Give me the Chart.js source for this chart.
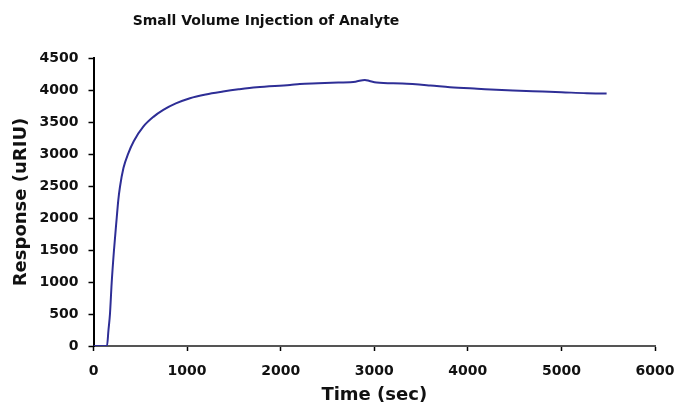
<!DOCTYPE html>
<html><head><meta charset="utf-8">
<script src="https://cdn.jsdelivr.net/npm/chart.js@4"></script>
<style>html,body{margin:0;padding:0;background:#fff}#wrap{width:675px;height:406px}</style>
</head><body><div id="wrap"><canvas id="c" width="675" height="406"></canvas></div>
<script>
const titleText = "Small Volume Injection of Analyte";
const xTitle = "Time (sec)";
const yTitle = "Response (uRIU)";
const timeSec = [0, 100, 144, 160, 176, 194, 219, 248, 265, 283, 320, 372, 430, 532, 640, 746, 880, 1031, 1200, 1384, 1550, 1743, 2100, 2205, 2400, 2615, 2800, 2900, 2950, 3025, 3300, 3600, 3809, 4100, 4482, 4800, 5000, 5270, 5483];
const response = [0, 0, 0, 250, 500, 981, 1500, 2000, 2280, 2488, 2780, 3011, 3200, 3427, 3580, 3689, 3790, 3872, 3930, 3975, 4010, 4044, 4080, 4095, 4105, 4116, 4130, 4158, 4140, 4116, 4100, 4070, 4044, 4020, 3991, 3975, 3965, 3950, 3945];
const xTicks = [0, 1000, 2000, 3000, 4000, 5000, 6000];
const yTicks = [0, 500, 1000, 1500, 2000, 2500, 3000, 3500, 4000, 4500];

const pts = timeSec.map((t, i) => ({x: t, y: response[i]}));
const tickFont = {family: "DejaVu Sans", weight: "bold", size: 14};
const titlePlugin = {
  id: 'leftTitle',
  afterDraw(chart) {
    const ctx = chart.ctx;
    ctx.save();
    ctx.font = "bold 14px 'DejaVu Sans'";
    ctx.fillStyle = '#111';
    ctx.textAlign = 'center';
    ctx.textBaseline = 'middle';
    ctx.fillText(titleText, 266, 21);
    ctx.restore();
  }
};
new Chart(document.getElementById('c'), {
  type: 'scatter',
  data: {datasets: [{data: pts, showLine: true, borderColor: '#2e2e96', borderWidth: 2, pointRadius: 0, cubicInterpolationMode: 'monotone', fill: false}]},
  options: {
    responsive: false, animation: false, devicePixelRatio: 1,
    layout: {padding: {left: 0, right: 20, top: 58, bottom: 0}},
    plugins: {legend: {display: false}, tooltip: {enabled: false}, title: {display: false}},
    scales: {
      x: {
        type: 'linear', min: 0, max: 6000,
        afterBuildTicks: s => { s.ticks = xTicks.map(v => ({value: v})); },
        afterFit: s => { s.height = 60; s.paddingLeft = 0; s.paddingRight = 0; },
        grid: {display: true, drawOnChartArea: false, drawTicks: true, tickLength: 5, tickColor: '#000', tickWidth: 1.5},
        border: {display: true, color: '#555', width: 2},
        ticks: {color: '#111', font: tickFont, padding: 12, maxRotation: 0, callback: v => String(v)},
        title: {display: true, text: xTitle, color: '#111', font: {family: "DejaVu Sans", weight: "bold", size: 18}, padding: {top: 0, bottom: 0}}
      },
      y: {
        type: 'linear', min: 0, max: 4500,
        afterBuildTicks: s => { s.ticks = yTicks.map(v => ({value: v})); },
        afterFit: s => { s.width = 93.5; },
        grid: {display: true, drawOnChartArea: false, drawTicks: true, tickLength: 5, tickColor: '#000', tickWidth: 1.5},
        border: {display: true, color: '#000', width: 2},
        ticks: {color: '#111', font: tickFont, padding: 10, callback: v => String(v)},
        title: {display: true, text: yTitle, color: '#111', font: {family: "DejaVu Sans", weight: "bold", size: 18}, padding: {top: 11, bottom: 0}}
      }
    }
  },
  plugins: [titlePlugin]
});
</script></body></html>
